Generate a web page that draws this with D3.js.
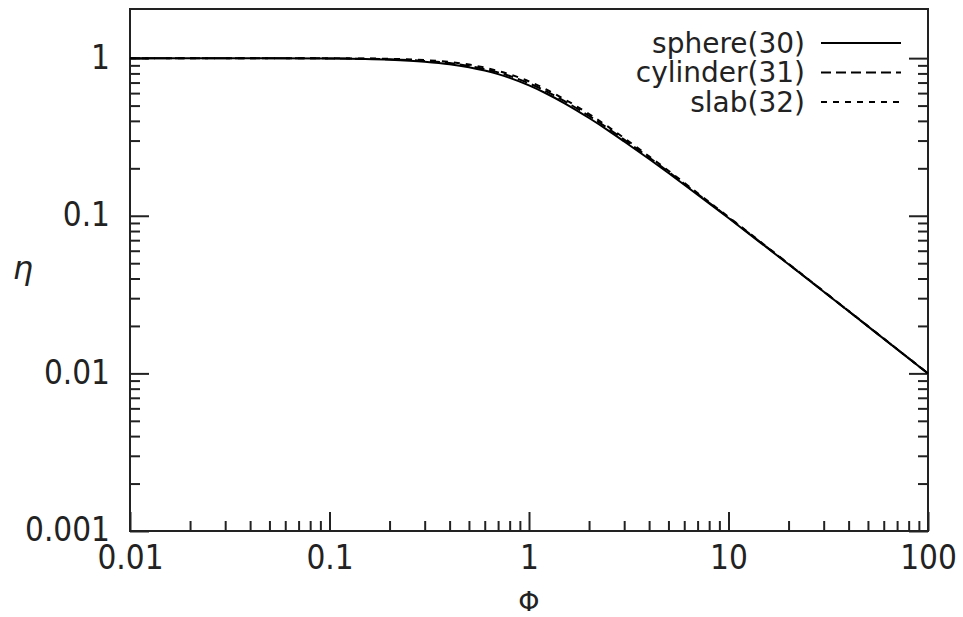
<!DOCTYPE html>
<html>
<head>
<meta charset="utf-8">
<script src="https://cdn.jsdelivr.net/npm/d3@7"></script>
<style>
  body { margin: 0; background: #fff; }
  text { font-family: "DejaVu Sans", sans-serif; fill: #222; }
  .tick text { font-family: "DejaVu Sans Condensed", "DejaVu Sans", sans-serif; font-stretch: condensed; }
</style>
</head>
<body>
<svg id="chart" width="963" height="617"></svg>
<script>
// Thiele modulus values (x) and effectiveness factors
let phi = [0.01, 0.05, 0.1, 0.2, 0.3, 0.4, 0.5, 0.6, 0.7, 0.8, 1, 1.2, 1.5, 2, 2.5, 3, 4, 5, 6, 8, 10, 20, 50, 100];
let sphere = [1, 0.9985, 0.994, 0.977, 0.950, 0.916, 0.876, 0.834, 0.792, 0.750,
  0.672, 0.603, 0.519, 0.417, 0.347, 0.296, 0.229, 0.1867, 0.1574, 0.1198,
  0.0967, 0.0492, 0.01987, 0.00997];
let cylinder = [1, 0.999, 0.996, 0.983, 0.960, 0.930, 0.893, 0.853, 0.812, 0.771,
  0.692, 0.622, 0.535, 0.430, 0.357, 0.304, 0.234, 0.190, 0.1596, 0.1210,
  0.0975, 0.0494, 0.0199, 0.00998];
let slab = [1, 0.9995, 0.998, 0.990, 0.972, 0.945, 0.910, 0.871, 0.830, 0.790,
  0.712, 0.640, 0.550, 0.442, 0.366, 0.311, 0.238, 0.193, 0.1618, 0.1222,
  0.0983, 0.0496, 0.01995, 0.01];

let series_names = ["sphere(30)", "cylinder(31)", "slab(32)"];
let series_dash = [null, "10,5", "6,6"];

let x_ticks = [0.01, 0.1, 1, 10, 100],
  x_labels = ["0.01", "0.1", "1", "10", "100"];
let y_ticks = [0.001, 0.01, 0.1, 1],
  y_labels = ["0.001", "0.01", "0.1", "1"];

let margin = {top: 9, right: 35, bottom: 86, left: 130},
  width = 963 - margin.left - margin.right,
  height = 617 - margin.top - margin.bottom;

let svg = d3.select("#chart");
let g = svg.append("g")
  .attr("transform", `translate(${margin.left},${margin.top})`);

let x = d3.scaleLog().domain([0.01, 100]).range([0, width]);
let y = d3.scaleLog().domain([0.001, 2.05]).range([height, 0]);

// minor ticks: 2..9 of each decade inside the labelled range
let x_minor = x.ticks().filter(v => x_ticks.indexOf(v) == -1);
let y_minor = d3.scaleLog().domain([0.001, 1]).ticks().filter(v => y_ticks.indexOf(v) == -1);

function style_axis(sel) {
  sel.select(".domain").remove();
  sel.selectAll(".tick line").attr("stroke", "#222").attr("stroke-width", 2);
}

// bottom axis, ticks pointing inward
g.append("g")
  .attr("transform", `translate(0,${height})`)
  .call(d3.axisBottom(x).tickValues(x_minor).tickSize(-10).tickFormat(""))
  .call(style_axis);
g.append("g")
  .attr("transform", `translate(0,${height})`)
  .call(d3.axisBottom(x).tickValues(x_ticks).tickSize(-19)
    .tickFormat((d, i) => x_labels[i]).tickPadding(15))
  .call(style_axis)
  .selectAll("text").attr("font-size", 33).attr("fill", "#222");

// left axis
g.append("g")
  .call(d3.axisLeft(y).tickValues(y_minor).tickSize(-10).tickFormat(""))
  .call(style_axis);
g.append("g")
  .call(d3.axisLeft(y).tickValues(y_ticks).tickSize(-19)
    .tickFormat((d, i) => y_labels[i]).tickPadding(20))
  .call(style_axis)
  .selectAll("text").attr("font-size", 33).attr("fill", "#222").attr("dy", "0.3em");

// right axis, ticks only
g.append("g")
  .attr("transform", `translate(${width},0)`)
  .call(d3.axisRight(y).tickValues(y_minor).tickSize(-10).tickFormat(""))
  .call(style_axis);
g.append("g")
  .attr("transform", `translate(${width},0)`)
  .call(d3.axisRight(y).tickValues(y_ticks).tickSize(-19).tickFormat(""))
  .call(style_axis);

// frame
g.append("rect")
  .attr("x", 0).attr("y", 0)
  .attr("width", width).attr("height", height)
  .attr("fill", "none")
  .attr("stroke", "#222")
  .attr("stroke-width", 2);

// curves
let line = d3.line()
  .x((d, i) => x(phi[i]))
  .y(d => y(d))
  .curve(d3.curveMonotoneX);

let all_series = [sphere, cylinder, slab];
g.append("g")
  .selectAll("path")
  .data(all_series).enter()
  .append("path")
  .attr("d", d => line(d))
  .attr("fill", "none")
  .attr("stroke", "#000")
  .attr("stroke-width", 2)
  .attr("stroke-dasharray", (d, i) => series_dash[i]);

// legend
let legend = g.append("g")
  .attr("transform", `translate(${805 - margin.left},${43 - margin.top})`);
let rows = legend.selectAll("g")
  .data(series_names).enter()
  .append("g")
  .attr("transform", (d, i) => `translate(0,${i * 29.5})`);
rows.append("text")
  .attr("text-anchor", "end")
  .attr("dy", "0.35em")
  .attr("font-size", 28)
  .text(d => d);
rows.append("line")
  .attr("x1", 16).attr("x2", 96)
  .attr("stroke", "#000")
  .attr("stroke-width", 2)
  .attr("stroke-dasharray", (d, i) => series_dash[i]);

// axis titles
svg.append("text")
  .attr("x", margin.left + x(1))
  .attr("y", 602)
  .attr("dy", "0.35em")
  .attr("text-anchor", "middle")
  .attr("font-size", 27)
  .text("Φ");
svg.append("text")
  .attr("x", 23)
  .attr("y", 268)
  .attr("dy", "0.35em")
  .attr("text-anchor", "middle")
  .attr("font-size", 32)
  .attr("font-style", "italic")
  .text("η");
</script>
</body>
</html>
